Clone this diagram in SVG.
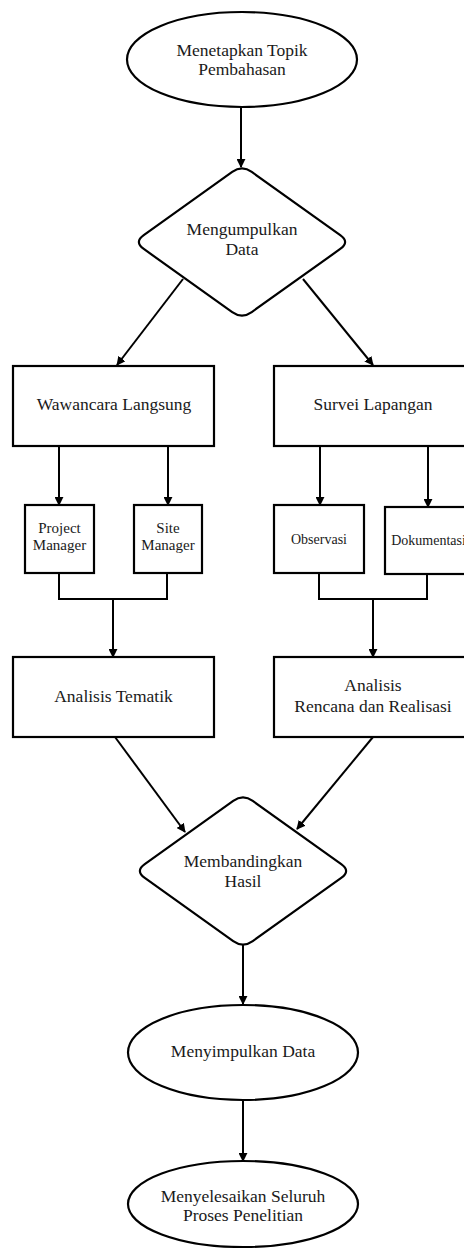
<svg xmlns="http://www.w3.org/2000/svg" width="464" height="1248" viewBox="0 0 464 1248">
<style>
.s{fill:#fff;stroke:#000;stroke-width:2.2}
.c{fill:none;stroke:#000;stroke-width:2}
text{font-family:"Liberation Serif","Times New Roman","DejaVu Serif",serif;font-size:17.5px;fill:#1a1a1a;text-anchor:middle}
.sm{font-size:15px}
</style>
<defs>
<marker id="ah" viewBox="0 0 10 10" refX="9" refY="5" markerWidth="9" markerHeight="9" markerUnits="userSpaceOnUse" orient="auto">
<path d="M0,0 L10,5 L0,10 Z" fill="#000"/>
</marker>
<path id="dia" d="M -9.77,-70.03 Q 0,-77 9.77,-70.03 L 98.23,-6.97 Q 108,0 98.23,6.97 L 9.77,70.03 Q 0,77 -9.77,70.03 L -98.23,6.97 Q -108,0 -98.23,-6.97 Z"/>
</defs>
<rect width="464" height="1248" fill="#fff"/>
<g id="connectors">
<line class="c" x1="241" y1="107" x2="241" y2="167" marker-end="url(#ah)"/>
<line class="c" x1="183" y1="279" x2="117" y2="365" marker-end="url(#ah)"/>
<line class="c" x1="303" y1="279" x2="373" y2="365" marker-end="url(#ah)"/>
<line class="c" x1="59" y1="446" x2="59" y2="505" marker-end="url(#ah)"/>
<line class="c" x1="168" y1="446" x2="168" y2="505" marker-end="url(#ah)"/>
<line class="c" x1="320" y1="446" x2="320" y2="505" marker-end="url(#ah)"/>
<line class="c" x1="428" y1="446" x2="428" y2="507" marker-end="url(#ah)"/>
<polyline class="c" points="59,573 59,599 167,599 167,573"/>
<line class="c" x1="113" y1="599" x2="113" y2="657" marker-end="url(#ah)"/>
<polyline class="c" points="319,573 319,599 427,599 427,574"/>
<line class="c" x1="373" y1="599" x2="373" y2="657" marker-end="url(#ah)"/>
<line class="c" x1="115" y1="737" x2="185" y2="832" marker-end="url(#ah)"/>
<line class="c" x1="373" y1="737" x2="297" y2="829" marker-end="url(#ah)"/>
<line class="c" x1="243" y1="944" x2="243" y2="1004" marker-end="url(#ah)"/>
<line class="c" x1="243" y1="1100" x2="243" y2="1161" marker-end="url(#ah)"/>
</g>
<g id="n_topik">
<ellipse class="s" cx="242" cy="59.5" rx="115" ry="47.5"/>
<text x="242" y="56">Menetapkan Topik</text>
<text x="242" y="75">Pembahasan</text>
</g>
<g id="n_kumpul">
<use href="#dia" class="s" transform="translate(242,242)"/>
<text x="242" y="235">Mengumpulkan</text>
<text x="242" y="255">Data</text>
</g>
<g id="n_wawancara">
<rect class="s" x="13" y="366" width="201" height="80"/>
<text x="114" y="409.5">Wawancara Langsung</text>
</g>
<g id="n_survei">
<rect class="s" x="274" y="366" width="198" height="80"/>
<text x="373" y="409.5">Survei Lapangan</text>
</g>
<g id="n_pm">
<rect class="s" x="25" y="505" width="69" height="68"/>
<text class="sm" x="59.5" y="532.5">Project</text>
<text class="sm" x="59.5" y="550">Manager</text>
</g>
<g id="n_sm">
<rect class="s" x="134" y="505" width="68" height="68"/>
<text class="sm" x="168" y="532.5">Site</text>
<text class="sm" x="168" y="550">Manager</text>
</g>
<g id="n_obs">
<rect class="s" x="274" y="505" width="90" height="68"/>
<text class="sm" x="319" y="544" style="font-size:14px">Observasi</text>
</g>
<g id="n_dok">
<rect class="s" x="385" y="507" width="86" height="67"/>
<text class="sm" x="428.5" y="545" style="font-size:14px">Dokumentasi</text>
</g>
<g id="n_tematik">
<rect class="s" x="13" y="657" width="201" height="80"/>
<text x="113.5" y="701.5">Analisis Tematik</text>
</g>
<g id="n_rencana">
<rect class="s" x="274" y="657" width="198" height="80"/>
<text x="373" y="690.5">Analisis</text>
<text x="373" y="711.5">Rencana dan Realisasi</text>
</g>
<g id="n_banding">
<use href="#dia" class="s" transform="translate(243,871)"/>
<text x="243" y="866.5">Membandingkan</text>
<text x="243" y="886.5">Hasil</text>
</g>
<g id="n_simpul">
<ellipse class="s" cx="243" cy="1052.5" rx="115" ry="47.5"/>
<text x="243" y="1057">Menyimpulkan Data</text>
</g>
<g id="n_selesai">
<ellipse class="s" cx="243" cy="1204" rx="115" ry="43"/>
<text x="243" y="1201.5">Menyelesaikan Seluruh</text>
<text x="243" y="1220.5">Proses Penelitian</text>
</g>
</svg>
